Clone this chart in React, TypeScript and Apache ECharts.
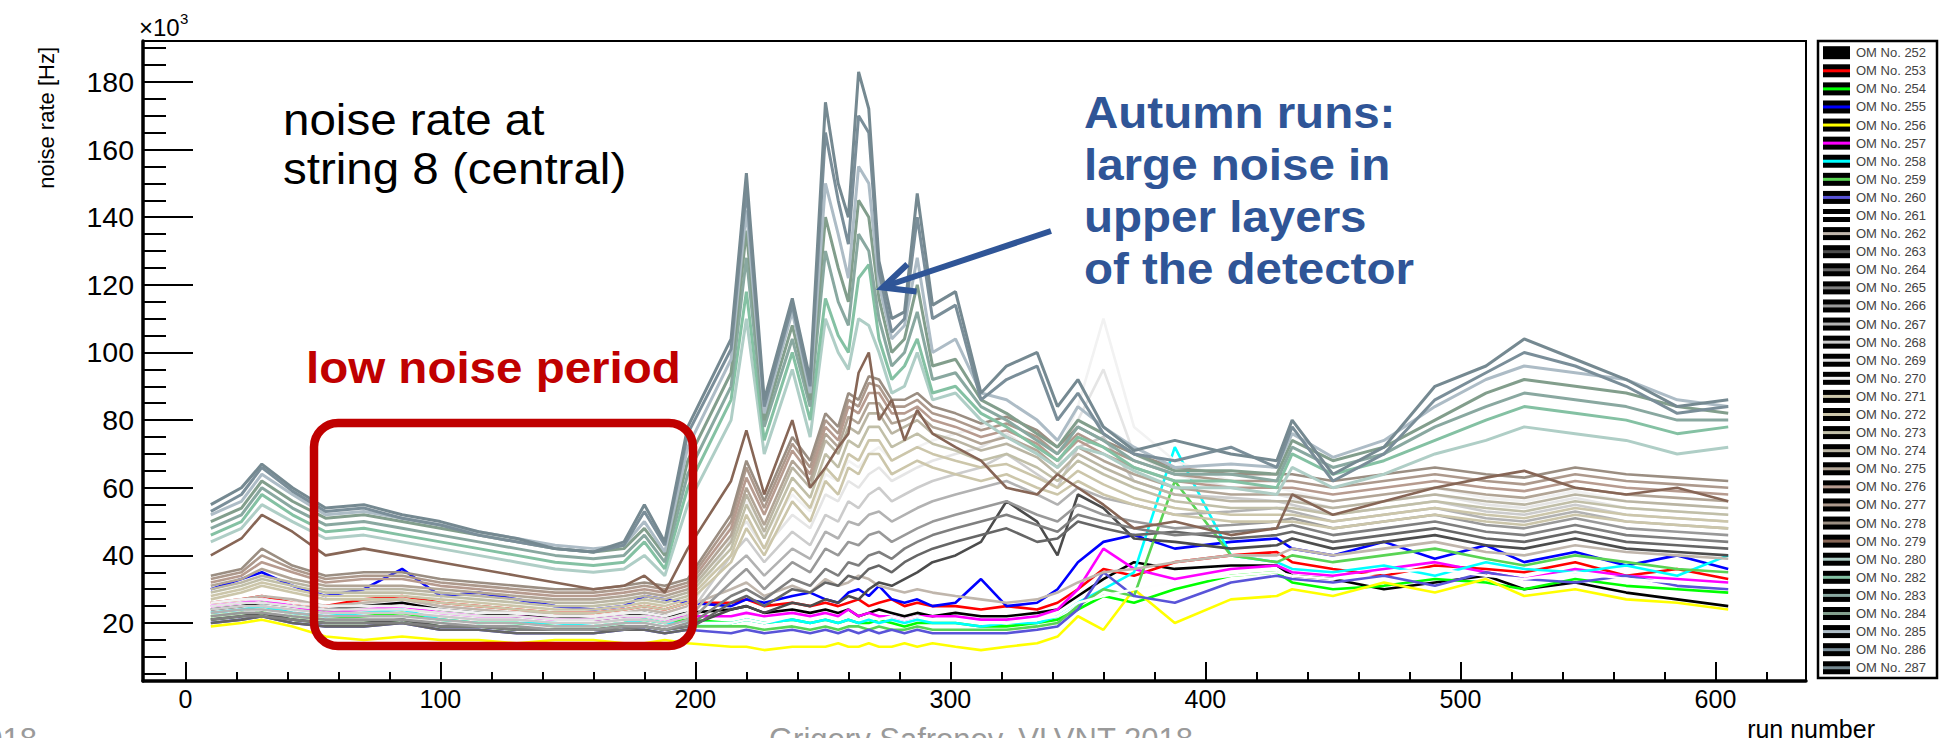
import React, { useEffect, useRef } from "react";
import * as echarts from "echarts";

// run numbers at which values were read
const RUNS = [10, 22, 30, 42, 55, 70, 85, 100, 115, 130, 145, 160, 172, 180, 188, 197,
  214, 220, 227, 238, 245, 251, 256, 260, 264, 268, 272, 277, 282, 287, 293,
  302, 312, 322, 334, 342, 350, 360, 372, 388, 410, 428,
  434, 450, 470, 490, 510, 525, 545, 565, 585, 605];

const OM_NAMES = ["OM No. 252", "OM No. 253", "OM No. 254", "OM No. 255", "OM No. 256", "OM No. 257",
  "OM No. 258", "OM No. 259", "OM No. 260", "OM No. 261", "OM No. 262", "OM No. 263", "OM No. 264",
  "OM No. 265", "OM No. 266", "OM No. 267", "OM No. 268", "OM No. 269", "OM No. 270", "OM No. 271",
  "OM No. 272", "OM No. 273", "OM No. 274", "OM No. 275", "OM No. 276", "OM No. 277", "OM No. 278",
  "OM No. 279", "OM No. 280", "OM No. 282", "OM No. 283", "OM No. 284", "OM No. 285", "OM No. 286",
  "OM No. 287"];

const OM_COLORS = ["#000000", "#ff0000", "#00ff00", "#0000ff", "#ffff00", "#ff00ff", "#00ffff",
  "#59d454", "#5954d8", "#fefefe", "#c0b6ac", "#4c4c4c", "#666666", "#7f7f7f", "#999999", "#b2b2b2",
  "#cccccc", "#e5e5e5", "#f2f2f2", "#ccc6aa", "#ccc6aa", "#c1bfa8", "#bab5a3", "#b2a596", "#b79b8f",
  "#ad998c", "#9b8e82", "#876656", "#afcec6", "#84c1a3", "#89a8a0", "#829e8c", "#adbcc6", "#7a8e99",
  "#758991"];

// noise rate values (x10^3 Hz), one per RUNS entry
const OM252 = [24,25,26,25,24,25,26,24,23,22,22,21,22,23,22,23, 24,25,23,24,23,24,23,24,22,23,24,23,22,23,22, 23,22,22,23,24,28,33,38,36,37,37, 34,33,30,32,34,30,32,29,27,25];
const OM253 = [26,27,28,26,25,27,28,26,25,24,23,23,24,25,24,26, 26,27,25,26,25,26,25,26,27,25,26,27,25,26,25, 25,24,25,24,26,30,36,34,38,40,41, 38,36,34,37,36,35,38,34,36,33];
const OM254 = [22,23,24,22,21,22,23,21,20,20,19,19,20,21,20,21, 20,21,20,21,20,21,20,21,20,20,21,20,19,20,20, 20,19,19,20,21,24,28,26,30,34,35, 32,30,31,33,32,30,33,31,30,29];
const OM255 = [30,33,35,31,28,30,36,28,29,27,25,24,25,28,27,26, 25,27,26,28,29,27,26,29,30,28,31,27,26,27,25, 26,33,25,26,30,38,44,46,42,44,45, 42,40,44,39,43,38,41,37,40,36];
const OM256 = [19,20,21,19,16,15,16,15,15,14,15,15,14,14,15,14, 13,13,12,13,13,13,14,13,13,14,13,13,14,13,14, 13,12,13,14,16,22,18,30,20,27,28, 30,28,32,29,33,28,30,27,26,24];
const OM257 = [25,26,27,25,23,24,25,23,22,22,21,21,22,22,21,22, 22,23,22,23,22,23,22,24,22,23,22,22,21,22,22, 22,21,21,22,24,30,42,36,33,36,37, 35,34,36,38,35,33,36,34,33,32];
const OM258 = [23,24,25,23,22,23,24,21,20,20,20,19,20,21,20,20, 20,21,20,21,20,21,20,21,20,21,20,21,20,21,20, 20,19,20,20,22,26,30,35,72,40,38, 36,35,37,34,38,36,35,37,34,40];
const OM259 = [21,22,23,21,20,20,21,19,19,18,18,18,19,19,18,19, 19,19,18,19,18,19,18,19,19,18,19,18,18,19,18, 18,18,18,19,20,25,30,28,62,40,38, 40,38,40,42,39,37,40,38,36,35];
const OM260 = [20,21,22,20,19,19,20,18,18,17,17,17,18,18,17,18, 17,18,17,18,17,18,17,18,17,18,17,18,17,18,17, 17,17,17,18,19,24,35,28,26,32,34, 33,32,34,31,35,33,32,34,31,30];
const OM261 = [22,23,24,22,21,21,22,20,20,19,19,19,20,20,19,20, 20,21,20,22,21,22,21,22,21,22,21,22,21,22,21, 21,20,20,21,22,26,28,30,32,34,35, 34,33,35,36,34,33,35,33,32,31];
const OM262 = [26,27,28,27,25,26,27,25,24,23,23,22,23,24,23,25, 30,32,28,31,29,33,31,32,34,33,31,30,29,30,29, 28,27,26,27,29,32,35,36,38,40,40, 42,40,42,44,41,40,43,41,40,39];
const OM263 = [21,22,23,21,20,20,21,19,19,18,18,18,19,19,18,19, 24,25,23,26,25,27,26,28,27,30,32,31,33,35,38, 40,44,56,50,40,58,54,45,44,42,43, 45,42,44,46,43,42,45,42,41,40];
const OM264 = [20,21,22,20,19,19,20,18,18,17,17,17,18,18,17,18, 26,28,25,30,29,32,31,34,33,36,37,35,38,40,42, 44,46,48,44,45,50,48,46,47,45,46, 47,44,46,48,45,44,47,44,43,42];
const OM265 = [21,22,22,21,20,20,20,19,19,18,18,18,18,19,18,19, 28,30,27,33,31,36,34,38,37,40,41,39,42,44,46, 48,50,52,49,47,52,50,48,46,47,48, 49,46,48,50,47,46,49,46,45,44];
const OM266 = [22,23,23,22,21,21,21,20,19,19,18,18,19,19,18,20, 32,36,30,38,35,42,40,44,43,46,47,44,46,48,50, 52,54,56,52,50,55,52,50,48,49,50, 51,48,50,52,49,48,51,48,47,46];
const OM267 = [23,24,24,23,22,22,22,21,20,20,19,19,20,20,19,21, 36,40,34,42,39,47,45,50,49,52,53,50,52,54,56, 58,60,62,58,55,60,57,55,52,53,54, 53,50,52,54,51,50,53,50,49,48];
const OM268 = [24,25,25,24,23,23,23,22,21,21,20,20,21,21,20,22, 40,45,38,47,43,52,50,56,54,58,60,56,58,60,62, 64,66,70,64,60,72,75,62,58,57,56, 55,52,54,56,53,52,55,52,51,50];
const OM269 = [25,26,26,25,24,24,24,23,22,22,21,21,22,22,21,23, 45,50,42,52,48,58,56,62,60,64,66,62,64,66,68, 70,72,76,70,66,80,95,70,64,60,58, 57,54,56,58,55,54,57,54,53,52];
const OM270 = [26,27,27,26,25,25,25,24,23,23,22,22,23,23,22,24, 50,56,46,58,53,64,62,68,66,70,72,68,70,72,74, 76,78,82,76,70,84,110,78,68,62,60, 59,56,58,60,57,56,59,56,55,54];
const OM271 = [27,29,31,29,27,27,27,26,25,24,23,23,24,25,24,26, 38,48,40,56,50,62,58,66,64,70,70,64,66,68,66, 64,62,64,60,58,62,58,55,52,50,50, 50,48,50,52,50,49,52,50,49,48];
const OM272 = [28,30,32,30,28,28,28,27,26,25,24,24,25,26,25,27, 40,52,42,60,54,66,62,70,68,74,74,68,70,72,70, 68,66,67,63,60,65,61,57,54,52,52, 52,50,52,54,52,51,54,52,51,50];
const OM273 = [29,31,33,31,29,29,29,28,27,26,25,25,26,27,26,28, 42,55,45,63,57,70,66,74,72,78,78,72,74,76,73, 71,68,70,66,62,68,64,60,56,54,54, 54,52,54,56,54,53,56,54,53,52];
const OM274 = [30,32,34,32,30,30,30,29,28,27,26,26,27,28,27,29, 44,58,47,66,60,74,70,78,76,82,82,76,78,80,76, 74,71,73,69,64,70,66,62,58,56,56, 56,54,56,58,56,55,58,56,55,54];
const OM275 = [31,33,36,33,31,31,31,30,29,28,27,27,28,29,28,30, 46,60,49,68,62,76,72,81,79,85,85,79,80,82,78, 76,73,75,71,66,72,68,64,60,58,58, 58,56,58,60,58,57,60,58,57,56];
const OM276 = [32,34,38,35,32,33,33,31,30,29,28,28,29,30,29,31, 48,63,52,71,64,78,74,84,82,88,88,82,82,84,80, 78,75,77,73,68,74,70,66,62,60,60, 60,58,60,62,60,59,62,60,59,58];
const OM277 = [33,35,40,36,33,34,34,32,31,30,29,29,30,31,30,32, 50,66,54,73,66,80,76,86,84,91,90,84,84,86,82, 80,77,79,75,70,76,72,68,64,62,62, 62,60,62,64,62,61,64,62,61,60];
const OM278 = [34,36,42,37,34,35,35,33,32,31,30,30,31,32,31,33, 52,68,56,75,68,82,78,88,86,93,92,86,86,88,84, 82,79,81,77,72,78,74,70,66,64,64, 64,62,64,66,64,63,66,64,63,62];
const OM279 = [40,45,52,47,40,42,40,38,36,34,32,30,31,34,29,42, 62,77,58,80,60,66,72,76,94,100,80,86,74,83,76, 72,68,60,58,64,60,55,48,50,46,48, 58,52,56,60,63,65,60,58,60,56];
const OM280 = [44,48,55,50,45,46,44,42,40,38,36,35,36,40,34,55, 80,110,70,95,75,110,100,95,110,108,100,88,90,100,86, 88,80,75,70,66,72,70,65,60,60,58, 66,60,64,70,74,78,76,74,70,72];
const OM282 = [46,50,58,52,47,48,46,44,42,40,38,37,38,44,36,60, 86,118,74,100,80,116,105,100,122,126,104,92,96,104,88, 90,82,78,72,68,75,72,66,62,62,60, 70,64,68,74,80,84,82,80,76,78];
const OM283 = [48,52,60,54,49,50,48,46,44,42,40,39,40,46,38,64, 90,128,78,104,84,130,115,108,135,130,110,96,100,112,92, 94,84,80,74,70,78,74,68,64,64,62, 72,66,70,78,84,88,86,84,80,80];
const OM284 = [50,54,62,56,51,52,50,48,46,44,42,41,42,48,40,68, 94,136,80,108,86,140,125,115,145,140,116,100,104,120,96, 98,86,82,76,72,80,76,70,65,65,64, 74,68,72,80,88,92,90,88,84,82];
const OM285 = [52,56,64,58,52,53,51,49,47,45,43,42,43,50,41,72, 98,142,82,112,88,150,135,122,155,150,120,104,108,128,100, 104,88,86,80,74,84,78,72,66,67,66, 76,69,74,84,92,96,94,92,86,84];
const OM286 = [53,58,66,59,53,54,51,49,46,44,42,41,43,53,43,76, 101,148,84,114,90,165,145,132,170,165,124,106,110,140,110, 114,86,92,96,80,88,76,70,68,72,66, 78,62,70,86,94,100,96,90,82,84];
const OM287 = [55,60,67,60,54,55,52,50,47,45,42,41,44,55,44,78, 104,153,86,116,92,174,150,140,183,172,127,110,112,147,114, 118,88,96,100,84,92,78,71,74,70,68, 80,64,72,90,96,104,98,92,84,86];

const SERIES_VALUES = [OM252, OM253, OM254, OM255, OM256, OM257, OM258, OM259, OM260, OM261, OM262,
  OM263, OM264, OM265, OM266, OM267, OM268, OM269, OM270, OM271, OM272, OM273, OM274, OM275, OM276,
  OM277, OM278, OM279, OM280, OM282, OM283, OM284, OM285, OM286, OM287];

const X_MAJOR = [0, 100, 200, 300, 400, 500, 600];
const X_MINOR = [20, 40, 60, 80, 120, 140, 160, 180, 220, 240, 260, 280, 320, 340, 360, 380, 420, 440, 460, 480, 520, 540, 560, 580, 620];
const Y_MAJOR = [20, 40, 60, 80, 100, 120, 140, 160, 180];
const Y_MINOR = [5, 10, 15, 25, 30, 35, 45, 50, 55, 65, 70, 75, 85, 90, 95, 105, 110, 115, 125, 130, 135, 145, 150, 155, 165, 170, 175, 185, 190];

const FONT = "'Liberation Sans', Arial, Helvetica, sans-serif";
const X_MIN = -16.6, X_MAX = 635.5, Y_MIN = 2.86, Y_MAX = 192.1;

export default function App() {
  const ref = useRef<HTMLDivElement>(null);
  useEffect(() => {
    if (!ref.current) return;
    const chart = echarts.init(ref.current, null, { renderer: "svg" });

    const legendEls: any[] = [
      { type: "rect", z: 100, shape: { x: 1818, y: 41, width: 119, height: 637 }, style: { fill: "#fff", stroke: "#000", lineWidth: 2.5 } },
    ];
    OM_NAMES.forEach((name, i) => {
      const cy = 52.7 + i * 18.09;
      legendEls.push({ type: "rect", z: 101, shape: { x: 1823, y: cy - 6.5, width: 27, height: 13 }, style: { fill: "#000" } });
      legendEls.push({ type: "line", z: 102, shape: { x1: 1823, y1: cy, x2: 1850, y2: cy }, style: { stroke: OM_COLORS[i], lineWidth: 3 } });
      legendEls.push({ type: "text", z: 102, x: 1856, y: cy, style: { text: name, fontSize: 13, fontFamily: FONT, fill: "#444", align: "left", verticalAlign: "middle" } });
    });

    const bigText = (text: string, x: number, y: number, color: string, bold: boolean) => ({
      type: "text", z: 110, x, y, scaleX: 1.08,
      style: { text, fontSize: 44, fontWeight: bold ? "bold" : "normal", fontFamily: FONT, fill: color, align: "left", verticalAlign: "middle" },
    });

    const blue = "#2F5597";
    const option: any = {
      animation: false,
      backgroundColor: "#ffffff",
      grid: { left: 143, top: 41, right: 138, bottom: 57, show: true, borderColor: "#000", borderWidth: 2, backgroundColor: "transparent" },
      xAxis: [
        {
          type: "value", min: X_MIN, max: X_MAX, position: "bottom",
          axisLine: { show: true, onZero: false, lineStyle: { color: "#000", width: 3.5 } },
          axisTick: { show: true, inside: true, length: 19, customValues: X_MAJOR, lineStyle: { color: "#000", width: 2 } },
          axisLabel: { show: true, customValues: X_MAJOR, fontSize: 25, color: "#000", margin: 5, fontFamily: FONT },
          splitLine: { show: false },
        },
        {
          type: "value", min: X_MIN, max: X_MAX, position: "bottom",
          axisLine: { show: false, onZero: false },
          axisTick: { show: true, inside: true, length: 9, customValues: X_MINOR, lineStyle: { color: "#000", width: 2 } },
          axisLabel: { show: false },
          splitLine: { show: false },
        },
      ],
      yAxis: [
        {
          type: "value", min: Y_MIN, max: Y_MAX, position: "left",
          axisLine: { show: true, onZero: false, lineStyle: { color: "#000", width: 3.5 } },
          axisTick: { show: true, inside: true, length: 50, customValues: Y_MAJOR, lineStyle: { color: "#000", width: 2 } },
          axisLabel: { show: true, customValues: Y_MAJOR, fontSize: 28.5, color: "#000", margin: 9, fontFamily: FONT },
          splitLine: { show: false },
        },
        {
          type: "value", min: Y_MIN, max: Y_MAX, position: "left",
          axisLine: { show: false, onZero: false },
          axisTick: { show: true, inside: true, length: 23, customValues: Y_MINOR, lineStyle: { color: "#000", width: 2 } },
          axisLabel: { show: false },
          splitLine: { show: false },
        },
      ],
      series: SERIES_VALUES.map((vals, i) => ({
        type: "line",
        name: OM_NAMES[i],
        xAxisIndex: 0,
        yAxisIndex: 0,
        data: RUNS.map((r, j) => [r, vals[j]]),
        symbol: "none",
        showSymbol: false,
        silent: true,
        clip: true,
        lineStyle: { color: OM_COLORS[i], width: i >= 28 ? 3 : 2.6 },
        itemStyle: { color: OM_COLORS[i] },
      })),
      graphic: [
        { type: "text", z: 110, x: 139, y: 27, style: { text: "×10", fontSize: 24, fontFamily: FONT, fill: "#000", align: "left", verticalAlign: "middle" } },
        { type: "text", z: 110, x: 180, y: 18, style: { text: "3", fontSize: 15, fontFamily: FONT, fill: "#000", align: "left", verticalAlign: "middle" } },
        { type: "text", z: 110, x: 46, y: 47, rotation: Math.PI / 2, style: { text: "noise rate [Hz]", fontSize: 22, fontFamily: FONT, fill: "#000", align: "right", verticalAlign: "middle" } },
        { type: "text", z: 110, x: 1875, y: 729, style: { text: "run number", fontSize: 25, fontFamily: FONT, fill: "#000", align: "right", verticalAlign: "middle" } },
        { type: "text", z: 110, x: 769, y: 739, style: { text: "Grigory Safronov, VLVNT 2018", fontSize: 31, fontFamily: FONT, fill: "#9a9a9a", align: "left", verticalAlign: "middle" } },
        { type: "text", z: 110, x: 37, y: 739, style: { text: "2018", fontSize: 31, fontFamily: FONT, fill: "#9a9a9a", align: "right", verticalAlign: "middle" } },
        bigText("noise rate at", 283, 120, "#000", false),
        bigText("string 8 (central)", 283, 169, "#000", false),
        bigText("low noise period", 306, 368, "#C00000", true),
        bigText("Autumn runs:", 1084, 113, blue, true),
        bigText("large noise in", 1084, 165, blue, true),
        bigText("upper layers", 1084, 217, blue, true),
        bigText("of the detector", 1084, 269, blue, true),
        { type: "rect", z: 105, shape: { x: 314, y: 423, width: 379, height: 223, r: 24 }, style: { fill: "none", stroke: "#C00000", lineWidth: 8.5 } },
        { type: "line", z: 105, shape: { x1: 1051, y1: 231, x2: 886, y2: 286 }, style: { stroke: blue, lineWidth: 6 } },
        { type: "polyline", z: 105, shape: { points: [[916.5, 291.5], [882.7, 287.6], [907.4, 264.2]] }, style: { stroke: blue, lineWidth: 6, fill: "none", lineJoin: "miter" } },
        ...legendEls,
      ],
    };
    chart.setOption(option);
    return () => chart.dispose();
  }, []);

  return (
    <div
      ref={ref}
      style={{ position: "absolute", left: 0, top: 0, width: 1944, height: 738, background: "#fff" }}
    />
  );
}
